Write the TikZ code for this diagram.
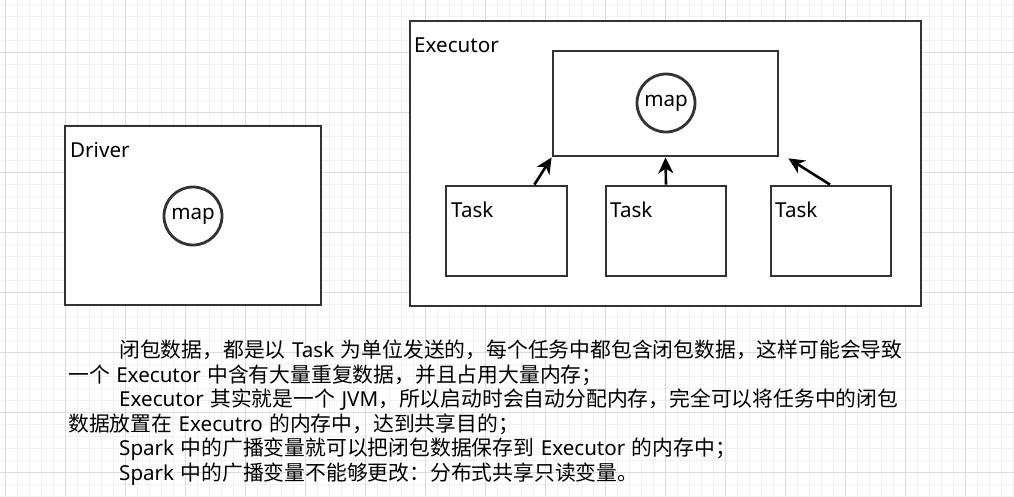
\documentclass[tikz,border=0pt]{standalone}
\usepackage{fontspec}
\setmainfont{Noto Sans CJK SC}
\newfontfamily\latf[Scale=0.99]{Noto Sans}
\newcommand\lt[1]{{\latf #1}}
\usetikzlibrary{arrows.meta,calc}
\definecolor{stroke}{HTML}{333333}
\definecolor{gridmajor}{HTML}{DCDCDC}
\definecolor{gridminor}{HTML}{F1F1F1}
\tikzset{
  boxshape/.style={draw=stroke, fill=white, line width=2.8pt, rectangle, inner sep=0pt},
  mapcircle/.style={draw=stroke, fill=white, line width=2.8pt, circle, inner sep=0pt, minimum size=58pt, font=\fontsize{20.8pt}{24pt}\selectfont\latf},
  lbl/.style={anchor=base west, inner sep=0pt, font=\fontsize{20.8pt}{24pt}\selectfont\latf},
  para/.style={anchor=base west, inner sep=0pt, font={\fontsize{20.8pt}{24pt}\selectfont\spaceskip=6.5pt\relax}},
  arr/.style={draw=black, line width=2.6pt, -{Stealth[length=16pt, width=15pt, inset=5pt]}},
  gmin/.style={draw=gridminor, line width=0.8pt},
  gmaj/.style={draw=gridmajor, line width=1pt}
}
\begin{document}
\begin{tikzpicture}[x=1pt,y=-1pt]
\useasboundingbox (0,0) rectangle (1014,496);
\fill[white] (0,0) rectangle (1014,496);
% grid
\foreach \x in {5,17,...,1013} \draw[gmin] (\x,0) -- (\x,496);
\foreach \y in {4,16,...,496} \draw[gmin] (0,\y) -- (1014,\y);
\foreach \x in {5,65,...,1013} \draw[gmaj] (\x,0) -- (\x,496);
\foreach \y in {52,112,...,496} \draw[gmaj] (0,\y) -- (1014,\y);

% Driver
\node[boxshape, minimum width=256pt, minimum height=179pt] (driver) at (193,215.5) {};
\node[lbl] (driverlbl) at (70,157) {Driver};
\node[mapcircle] (dmap) at (193,216) {map};

% Executor
\node[boxshape, minimum width=511pt, minimum height=285pt] (exec) at (665.5,163.5) {};
\node[lbl] (execlbl) at (414,52) {Executor};
\node[boxshape, minimum width=225pt, minimum height=105pt] (inner) at (665.5,103.5) {};
\node[mapcircle] (emap) at (666,103) {map};

\node[boxshape, minimum width=121pt, minimum height=90pt] (t1) at (506.5,231) {};
\node[boxshape, minimum width=120pt, minimum height=90pt] (t2) at (666,231) {};
\node[boxshape, minimum width=120pt, minimum height=90pt] (t3) at (831,231) {};
\node[lbl] (t1lbl) at (451,217) {Task};
\node[lbl] (t2lbl) at (610,217) {Task};
\node[lbl] (t3lbl) at (775,217) {Task};

% arrows
\coordinate (a1s) at ($(t1.north east)+(-34,0)$);
\coordinate (a3e) at ($(inner.south east)+(9,1)$);
\coordinate (a3s) at ($(t3.north)+(-1,0)$);
\draw[arr] (a1s) -- (inner.south west);
\draw[arr] (t2.north) -- (inner.south);
\draw[arr] (a3s) -- (a3e);

% paragraph
\node[para] (p1) at (119,357.5) {闭包数据，都是以 \lt{Task} 为单位发送的，每个任务中都包含闭包数据，这样可能会导致};
\node[para] (p2) at (68,382) {一个 \lt{Executor} 中含有大量重复数据，并且占用大量内存；};
\node[para] (p3) at (119,406.5) {\lt{Executor} 其实就是一个 \lt{JVM}，所以启动时会自动分配内存，完全可以将任务中的闭包};
\node[para] (p4) at (68,431) {数据放置在 \lt{Executro} 的内存中，达到共享目的；};
\node[para] (p5) at (119,455.5) {\lt{Spark} 中的广播变量就可以把闭包数据保存到 \lt{Executor} 的内存中；};
\node[para] (p6) at (119,480) {\lt{Spark} 中的广播变量不能够更改：分布式共享只读变量。};
\end{tikzpicture}
\end{document}
